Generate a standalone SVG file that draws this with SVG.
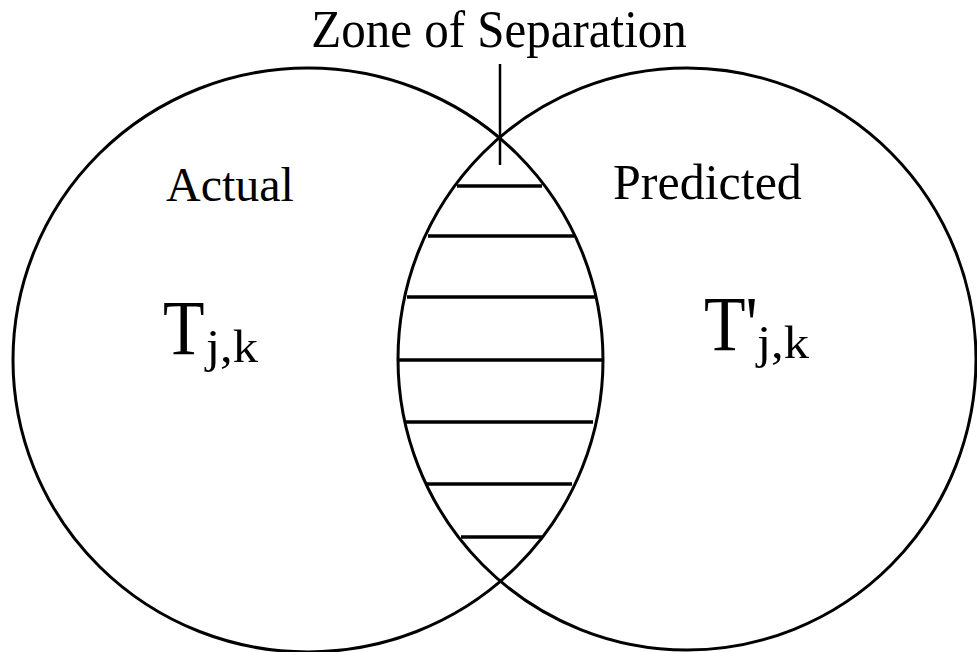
<svg xmlns="http://www.w3.org/2000/svg" width="977" height="652" viewBox="0 0 977 652">
<style>
.ring{fill:none;stroke:#000;stroke-width:3}
.hatch{stroke:#000;stroke-width:3.5}
.lbl{font-family:"Liberation Serif","Times New Roman",serif;fill:#000}
.big{font-size:68px}
.sub{font-size:46px}
</style>
<rect width="977" height="652" fill="#fff"/>
<g id="actual">
<ellipse class="ring" cx="308" cy="360" rx="295" ry="292"/>
<text class="lbl" x="166" y="201" font-size="48">Actual</text>
<text class="lbl big" transform="translate(163,354) scale(1,1.15)">T</text>
<text class="lbl sub" transform="translate(206,362) scale(1.1,1)">j,k</text>
</g>
<g id="predicted">
<ellipse class="ring" cx="687" cy="359" rx="289" ry="291"/>
<text class="lbl" x="613" y="199" font-size="50">Predicted</text>
<text class="lbl big" transform="translate(704,350) scale(1,1.15)">T'</text>
<text class="lbl sub" transform="translate(757,358) scale(1.1,1)">j,k</text>
</g>
<g id="zone">
<text class="lbl" font-size="49" text-anchor="middle" transform="translate(499,47) scale(1,1.07)">Zone of Separation</text>
<line x1="457" y1="186" x2="542" y2="186" class="hatch"/>
<line x1="428" y1="236" x2="574" y2="236" class="hatch"/>
<line x1="407" y1="297" x2="595" y2="297" class="hatch"/>
<line x1="398" y1="360" x2="603" y2="360" class="hatch"/>
<line x1="406" y1="422" x2="593" y2="422" class="hatch"/>
<line x1="425" y1="484" x2="572" y2="484" class="hatch"/>
<line x1="461" y1="537" x2="542" y2="537" class="hatch"/>
</g>
<g id="connectors">
<line x1="500" y1="64" x2="500" y2="165" stroke="#000" stroke-width="2.5"/>
</g>
</svg>
